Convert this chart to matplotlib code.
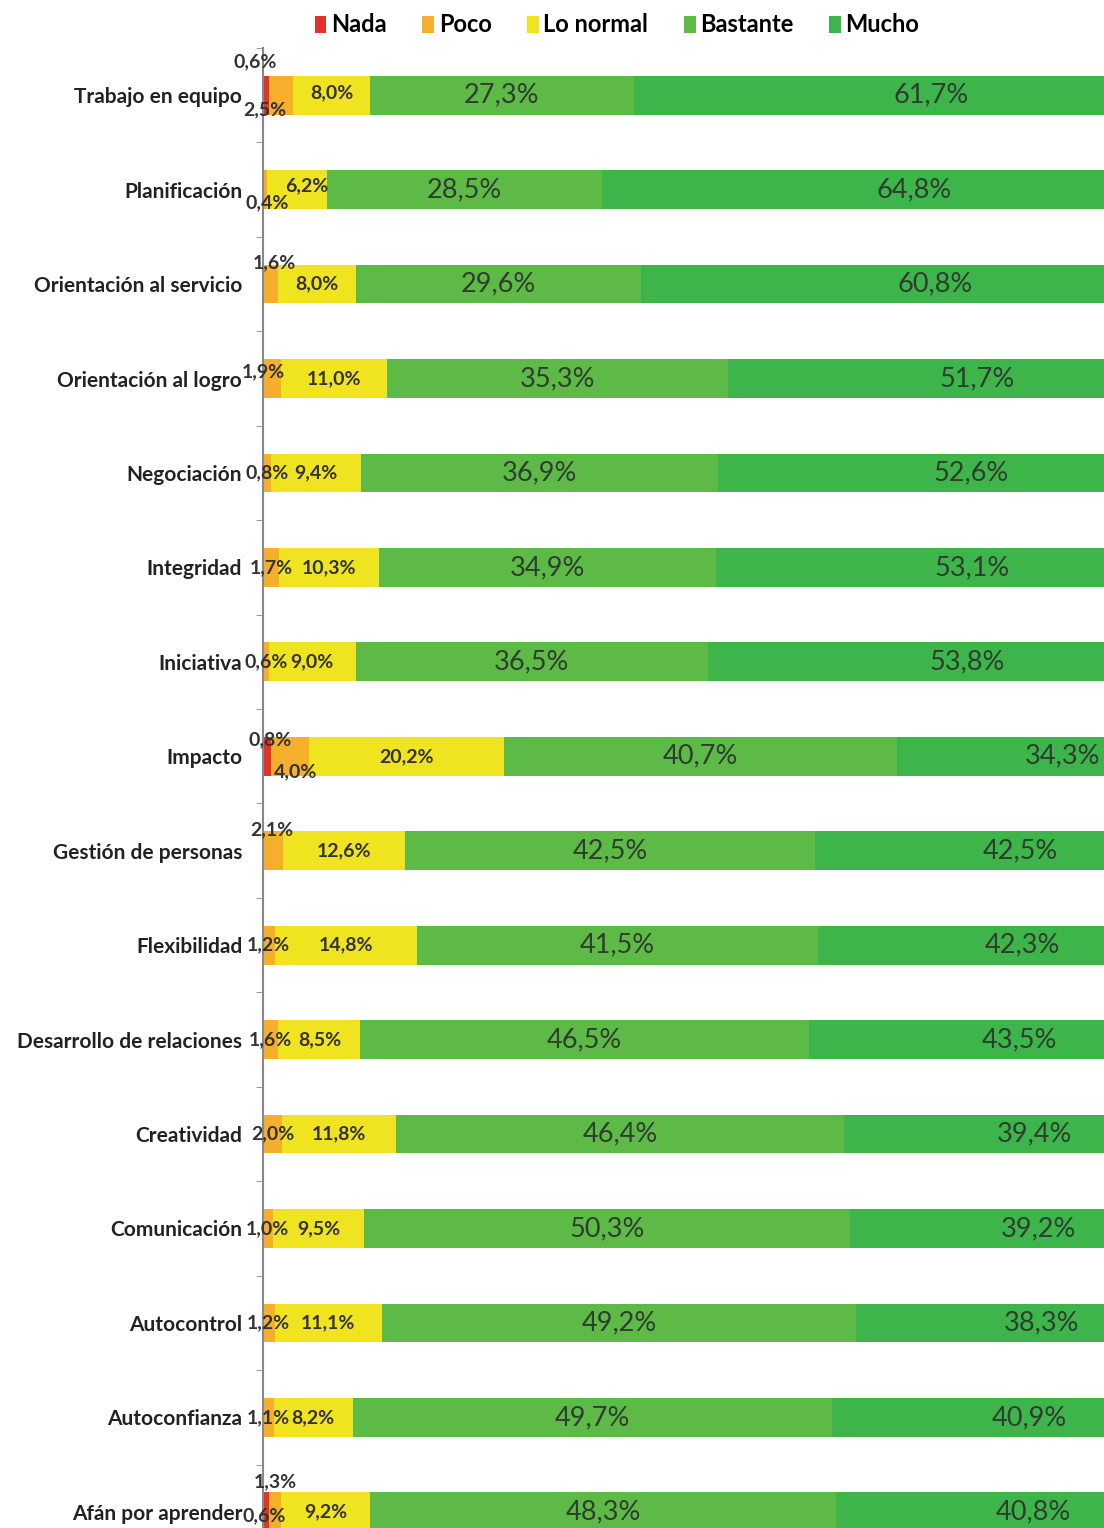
import matplotlib
matplotlib.use("Agg")
import matplotlib.pyplot as plt
import numpy as np

# competencias y porcentajes por nivel
competencias = ["Trabajo en equipo", "Planificación", "Orientación al servicio",
                "Orientación al logro", "Negociación", "Integridad", "Iniciativa",
                "Impacto", "Gestión de personas", "Flexibilidad",
                "Desarrollo de relaciones", "Creatividad", "Comunicación",
                "Autocontrol", "Autoconfianza", "Afán por aprender"]
niveles = ["Nada", "Poco", "Lo normal", "Bastante", "Mucho"]

nada = [0.6, 0.0, 0.0, 0.0, 0.0, 0.0, 0.0, 0.8, 0.0, 0.0, 0.0, 0.0, 0.0, 0.0, 0.0, 0.6]
poco = [2.5, 0.4, 1.6, 1.9, 0.8, 1.7, 0.6, 4.0, 2.1, 1.2, 1.6, 2.0, 1.0, 1.2, 1.1, 1.3]
normal = [8.0, 6.2, 8.0, 11.0, 9.4, 10.3, 9.0, 20.2, 12.6, 14.8, 8.5, 11.8, 9.5, 11.1, 8.2, 9.2]
bastante = [27.3, 28.5, 29.6, 35.3, 36.9, 34.9, 36.5, 40.7, 42.5, 41.5, 46.5, 46.4, 50.3, 49.2, 49.7, 48.3]
mucho = [61.7, 64.8, 60.8, 51.7, 52.6, 53.1, 53.8, 34.3, 42.5, 42.3, 43.5, 39.4, 39.2, 38.3, 40.9, 40.8]

colores = ["#E4322B", "#F6AE2D", "#F0E421", "#5DBA47", "#3EB54B"]
fuente = ["Lato", "DejaVu Sans"]

# desplazamientos (px) de etiquetas pequeñas: (fila, serie) -> (dx, dy)
ajustes = {
    (0, 0): (-11, -33), (0, 1): (-16, 15), (0, 2): (0, -2),
    (1, 1): (2, 13), (1, 2): (10, -4),
    (2, 1): (4, -21),
    (3, 1): (-9, -7),
    (7, 0): (3, -17), (7, 1): (6, 15),
    (8, 1): (-1, -21),
    (15, 0): (-2, 4), (15, 1): (0, -30),
}

W, H = 1104, 1528
fig = plt.figure(figsize=(W / 100, H / 100), dpi=100)
x0, x1 = 263, 1228
y0, y1 = 48, 1559
ax = fig.add_axes([x0 / W, 1 - y1 / H, (x1 - x0) / W, (y1 - y0) / H])

datos = np.array([nada, poco, normal, bastante, mucho])
y = np.arange(len(competencias))
izq = np.zeros(len(competencias))
for i, nivel in enumerate(niveles):
    vals = datos[i]
    ax.barh(y, vals, left=izq, height=0.41, color=colores[i], label=nivel, zorder=2)
    for j, v in enumerate(vals):
        if v <= 0:
            continue
        cx = izq[j] + v / 2
        etiqueta = f"{v:.1f}%".replace(".", ",")
        if i >= 3:
            ax.text(cx, j, etiqueta, ha="center", va="center", fontsize=19.5,
                    color="#2f3d2f", family=fuente, zorder=4)
        else:
            dx, dy = ajustes.get((j, i), (0, 0))
            ax.annotate(etiqueta, (cx, j), xytext=(dx * 0.72, -dy * 0.72),
                        textcoords="offset points", ha="center", va="center",
                        fontsize=14, fontweight="bold", color="#333333",
                        family=fuente, zorder=4)
    izq += vals

ax.set_xlim(0, 100)
ax.set_ylim(len(competencias) - 0.5, -0.5)
ax.set_yticks(y)
ax.set_yticklabels(competencias, fontsize=15, fontweight="bold", color="#222222",
                   family=fuente)
ax.set_yticks(np.arange(len(competencias) + 1) - 0.5, minor=True)
ax.tick_params(axis="y", which="major", length=0, pad=15)
ax.tick_params(axis="y", which="minor", length=5, color="#888888", direction="out")
ax.set_xticks([])
for lado in ["top", "right", "bottom"]:
    ax.spines[lado].set_visible(False)
ax.spines["left"].set_color("#888888")
ax.spines["left"].set_linewidth(1.5)
ax.spines["left"].set_zorder(3)

fig.legend(loc="center", bbox_to_anchor=(617 / W, 1 - 25 / H), ncol=5, frameon=False,
           handlelength=0.5, handleheight=0.7, handletextpad=0.2, columnspacing=1.5,
           prop={"family": fuente, "size": 17, "weight": "bold"})

fig.savefig("out.png", dpi=100)
